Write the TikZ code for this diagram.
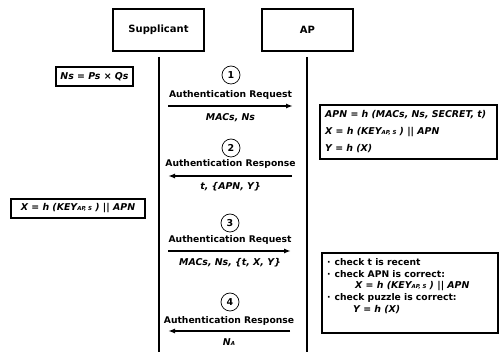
\documentclass[tikz,border=0pt]{standalone}
\usepackage{fontspec}
\setmainfont{DejaVu Sans}
\usetikzlibrary{arrows.meta}
\newcommand{\sub}[1]{{\fontsize{5.5}{6}\selectfont #1}}
\begin{document}
\begin{tikzpicture}[x=1pt,y=-1pt,
  actor/.style={draw,line width=1.6pt,minimum width=91pt,minimum height=42pt,inner sep=0pt,font=\bfseries\fontsize{10}{12}\selectfont},
  life/.style={line width=1.6pt},
  msgarrow/.style={line width=1.6pt,-{Latex[length=7pt,width=5pt]}},
  numc/.style={draw,circle,line width=0.7pt,minimum size=18pt,inner sep=0pt,font=\bfseries\fontsize{9.5}{11}\selectfont},
  lbl/.style={inner sep=0pt,font=\bfseries\fontsize{9.2}{11}\selectfont},
  ital/.style={inner sep=0pt,font=\bfseries\itshape\fontsize{9.4}{11}\selectfont},
  fbox/.style={draw,line width=2pt,inner sep=0pt,anchor=north west},
]
\useasboundingbox (0,0) rectangle (499,352);
% actors
\node[actor] (sup) at (158.5,30) {Supplicant};
\node[actor] (ap) at (307.5,30) {AP};
% lifelines
\coordinate (s0) at (159,57); \coordinate (s1) at (159,352);
\coordinate (a0) at (307,57); \coordinate (a1) at (307,352);
\draw[life] (s0) -- (s1);
\draw[life] (a0) -- (a1);
% left boxes
\node[fbox,minimum width=77pt,minimum height=19pt] (ns) at (55,66) {};
\node[ital] at (ns.center) {Ns = Ps \textup{×} Qs};
\node[fbox,minimum width=134pt,minimum height=19pt] (xb) at (10,198) {};
\node[ital] at (xb.center) {X = h (KEY\sub{AP, S} ) \textup{||} APN};
% message 1
\node[numc] (c1) at (231,75) {1};
\node[lbl] (l1) at (230.5,95) {Authentication Request};
\coordinate (m1a) at (168,106); \coordinate (m1b) at (293,106);
\draw[msgarrow] (m1a) -- (m1b);
\node[ital] (p1) at (230.5,118) {MACs, Ns};
% message 2
\node[numc] (c2) at (231,148) {2};
\node[lbl] (l2) at (230.5,164) {Authentication Response};
\coordinate (m2a) at (292,176); \coordinate (m2b) at (168,176);
\draw[msgarrow] (m2a) -- (m2b);
\node[ital] (p2) at (230.5,187) {t, \{APN, Y\}};
% message 3
\node[numc] (c3) at (230,223) {3};
\node[lbl] (l3) at (230,240) {Authentication Request};
\coordinate (m3a) at (168,251); \coordinate (m3b) at (291,251);
\draw[msgarrow] (m3a) -- (m3b);
\node[ital] (p3) at (230,263) {MACs, Ns, \{t, X, Y\}};
% message 4
\node[numc] (c4) at (230,302) {4};
\node[lbl] (l4) at (229,321) {Authentication Response};
\coordinate (m4a) at (290,331); \coordinate (m4b) at (168,331);
\draw[msgarrow] (m4a) -- (m4b);
\node[ital] (p4) at (229,342) {N\sub{A}};
% right boxes
\node[fbox,minimum width=177pt,minimum height=54pt] (apn) at (319,104) {};
\node[ital,anchor=west] (r1) at (325,115) {APN = h (MACs, Ns, SECRET, t)};
\node[ital,anchor=west] (r2) at (325,132) {X = h (KEY\sub{AP, S} ) \textup{||} APN};
\node[ital,anchor=west] (r3) at (325,149) {Y = h (X)};
\node[fbox,minimum width=176pt,minimum height=80pt] (chk) at (321,252) {};
\node[lbl,anchor=west] (k1) at (327,262) {·\hspace{4pt}check t is recent};
\node[lbl,anchor=west] (k2) at (327,274) {·\hspace{4pt}check APN is correct:};
\node[ital,anchor=west] (k3) at (355,286) {X = h (KEY\sub{AP, S} ) \textup{||} APN};
\node[lbl,anchor=west] (k4) at (327,298) {·\hspace{4pt}check puzzle is correct:};
\node[ital,anchor=west] (k5) at (353,310) {Y = h (X)};
\end{tikzpicture}
\end{document}
